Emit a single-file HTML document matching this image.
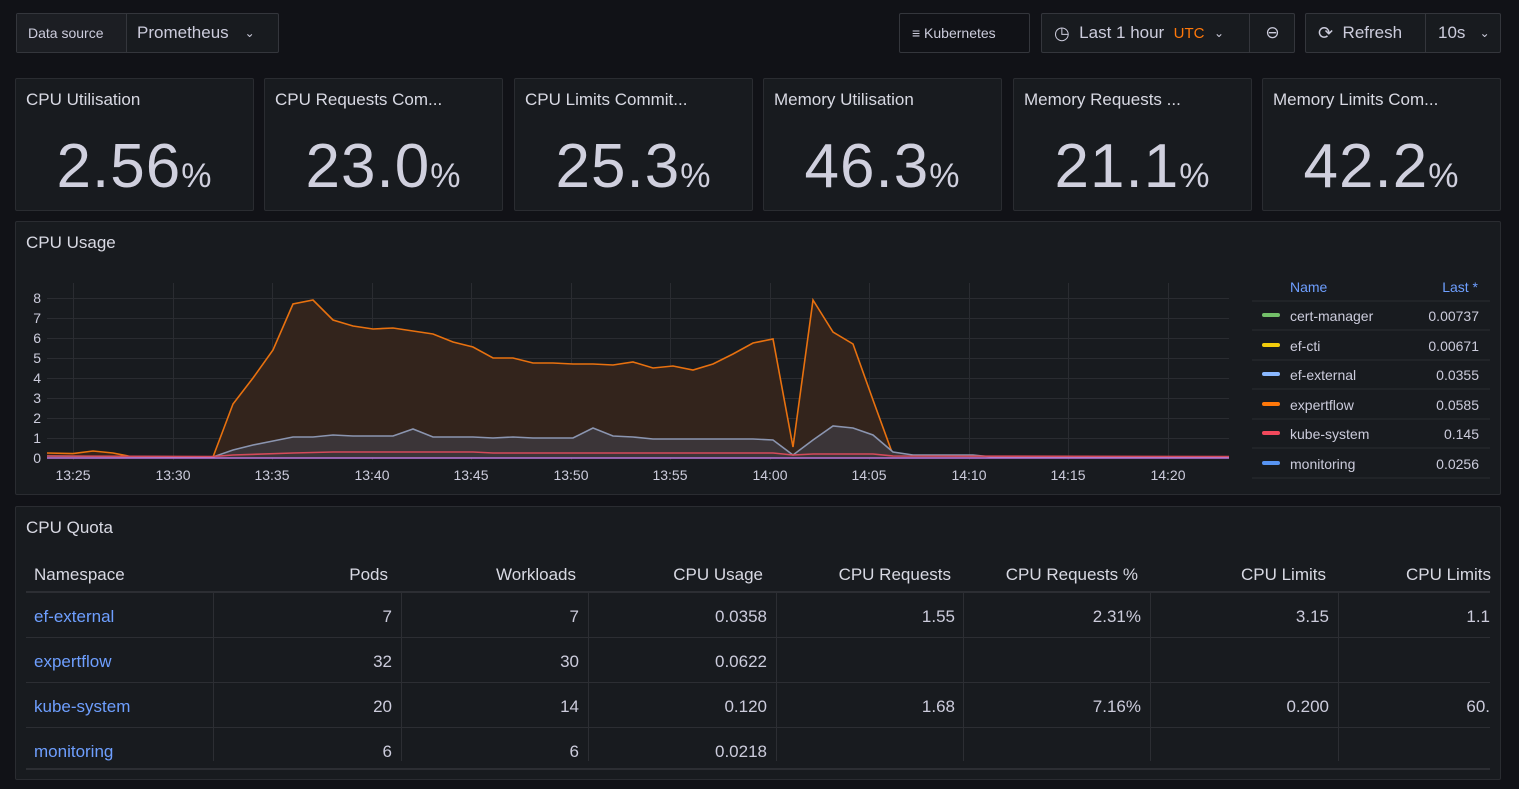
<!DOCTYPE html>
<html><head><meta charset="utf-8"><style>
*{box-sizing:border-box;margin:0;padding:0}
body{width:1519px;height:789px;background:#111217;font-family:"Liberation Sans",sans-serif;color:#ccccdc;position:relative;overflow:hidden}
.abs{position:absolute}
.btn{position:absolute;border:1px solid #34363c;border-radius:2px;background:#181b1f;display:flex;align-items:center;font-size:17px;color:#ccccdc}
.panel{position:absolute;background:#181b1f;border:1px solid #2a2c31;border-radius:2px}
.ptitle{position:absolute;left:10px;top:11px;font-size:17px;color:#d8d9e3}
.stat .big{position:absolute;left:0;right:0;top:52px;text-align:center;font-size:62px;color:#d0d0de;letter-spacing:1px}
.stat .big span{font-size:34px}
table{border-collapse:collapse}
</style></head><body>
<!-- top bar -->
<div class="btn" style="left:16px;top:13px;width:263px;height:40px;padding:0">
 <div style="width:110px;height:100%;border-right:1px solid #34363c;display:flex;align-items:center;padding-left:11px;font-size:14px;background:#1c1e23">Data source</div>
 <div style="padding-left:10px;font-size:17px">Prometheus</div><div style="margin-left:16px;font-size:12px">⌄</div>
</div>
<div class="btn" style="left:899px;top:13px;width:131px;height:40px;background:#111217;padding-left:12px;font-size:14px">≡&nbsp;Kubernetes</div>
<div class="btn" style="left:1041px;top:13px;width:254px;height:40px;padding-left:12px">
 <span style="font-size:18px">◷</span>&nbsp;&nbsp;Last 1 hour&nbsp;&nbsp;<span style="color:#ff780a;font-size:15px">UTC</span>&nbsp;&nbsp;<span style="font-size:12px">⌄</span>
 <div style="position:absolute;left:207px;top:0;height:38px;border-left:1px solid #34363c;width:46px;display:flex;align-items:center;justify-content:center">⊖</div>
</div>
<div class="btn" style="left:1305px;top:13px;width:196px;height:40px;padding-left:12px">
 <span style="font-size:18px">⟳</span>&nbsp;&nbsp;Refresh
 <div style="position:absolute;left:119px;top:0;height:38px;border-left:1px solid #34363c;padding-left:12px;display:flex;align-items:center">10s&nbsp;&nbsp;&nbsp;<span style="font-size:12px">⌄</span></div>
</div>
<!-- stats -->
<div class="panel stat" style="left:15px;top:78px;width:239px;height:133px"><div class="ptitle">CPU Utilisation</div><div class="big">2.56<span>%</span></div></div>
<div class="panel stat" style="left:264px;top:78px;width:239px;height:133px"><div class="ptitle">CPU Requests Com...</div><div class="big">23.0<span>%</span></div></div>
<div class="panel stat" style="left:514px;top:78px;width:239px;height:133px"><div class="ptitle">CPU Limits Commit...</div><div class="big">25.3<span>%</span></div></div>
<div class="panel stat" style="left:763px;top:78px;width:239px;height:133px"><div class="ptitle">Memory Utilisation</div><div class="big">46.3<span>%</span></div></div>
<div class="panel stat" style="left:1013px;top:78px;width:239px;height:133px"><div class="ptitle">Memory Requests ...</div><div class="big">21.1<span>%</span></div></div>
<div class="panel stat" style="left:1262px;top:78px;width:239px;height:133px"><div class="ptitle">Memory Limits Com...</div><div class="big">42.2<span>%</span></div></div>
<!-- CPU usage -->
<div class="panel" style="left:15px;top:221px;width:1486px;height:274px"><div class="ptitle">CPU Usage</div></div>
<svg class="abs" style="left:0;top:0" width="1519" height="789">
 <g stroke="#2a2c31" stroke-width="1">
  <line x1="47" x2="1229" y1="298.5" y2="298.5"/><line x1="47" x2="1229" y1="318.5" y2="318.5"/><line x1="47" x2="1229" y1="338.5" y2="338.5"/><line x1="47" x2="1229" y1="358.5" y2="358.5"/><line x1="47" x2="1229" y1="378.5" y2="378.5"/><line x1="47" x2="1229" y1="398.5" y2="398.5"/><line x1="47" x2="1229" y1="418.5" y2="418.5"/><line x1="47" x2="1229" y1="438.5" y2="438.5"/>
  <g transform="translate(0.5,0)"><line x1="73" x2="73" y1="283" y2="460"/><line x1="173" x2="173" y1="283" y2="460"/><line x1="272" x2="272" y1="283" y2="460"/><line x1="372" x2="372" y1="283" y2="460"/><line x1="471" x2="471" y1="283" y2="460"/><line x1="571" x2="571" y1="283" y2="460"/><line x1="670" x2="670" y1="283" y2="460"/><line x1="770" x2="770" y1="283" y2="460"/><line x1="869" x2="869" y1="283" y2="460"/><line x1="969" x2="969" y1="283" y2="460"/><line x1="1068" x2="1068" y1="283" y2="460"/><line x1="1168" x2="1168" y1="283" y2="460"/></g>
 </g>
 <g font-size="14" fill="#ccccdc" text-anchor="end">
  <text x="41" y="303">8</text><text x="41" y="323">7</text><text x="41" y="343">6</text><text x="41" y="363">5</text><text x="41" y="383">4</text><text x="41" y="403">3</text><text x="41" y="423">2</text><text x="41" y="443">1</text><text x="41" y="463">0</text>
 </g>
 <g font-size="14" fill="#ccccdc" text-anchor="middle">
  <text x="73" y="480">13:25</text><text x="173" y="480">13:30</text><text x="272" y="480">13:35</text><text x="372" y="480">13:40</text><text x="471" y="480">13:45</text><text x="571" y="480">13:50</text><text x="670" y="480">13:55</text><text x="770" y="480">14:00</text><text x="869" y="480">14:05</text><text x="969" y="480">14:10</text><text x="1068" y="480">14:15</text><text x="1168" y="480">14:20</text>
 </g>
 <polygon fill="#33241c" points="47,458 47,453 73,453.6 93,451 113,453 133,457 213,457 233,404 253,378 273,350 293,304 313,300 333,320 353,326 373,329 393,328 413,331 433,334 453,342 473,347 493,358 513,358 533,363 553,363 573,364 593,364 613,365 633,362 653,368 673,366 693,370 713,364 733,354 753,343 773,339 793,447 813,300 833,332 853,344 873,400 893,455 913,457 1229,457 1229,458"/>
 <polyline fill="none" stroke="#e8710f" stroke-width="1.6" points="47,453 73,453.6 93,451 113,453 133,457 213,457 233,404 253,378 273,350 293,304 313,300 333,320 353,326 373,329 393,328 413,331 433,334 453,342 473,347 493,358 513,358 533,363 553,363 573,364 593,364 613,365 633,362 653,368 673,366 693,370 713,364 733,354 753,343 773,339 793,447 813,300 833,332 853,344 873,400 893,455 913,457 1229,457"/>
 <polygon fill="#3b3538" points="47,458 47,456 213,457 233,450 253,445 273,441 293,437 313,437 333,435 353,436 373,436 393,436 413,429 433,437 453,437 473,437 493,438 513,437 533,438 553,438 573,438 593,428 613,436 633,437 653,439 673,439 753,439 773,440 793,455 813,440 833,426 853,428 873,435 893,452 913,455 973,455 993,457 1229,457 1229,458"/>
 <polyline fill="none" stroke="#8b95b0" stroke-width="1.6" points="47,456 213,457 233,450 253,445 273,441 293,437 313,437 333,435 353,436 373,436 393,436 413,429 433,437 453,437 473,437 493,438 513,437 533,438 553,438 573,438 593,428 613,436 633,437 653,439 673,439 753,439 773,440 793,455 813,440 833,426 853,428 873,435 893,452 913,455 973,455 993,457 1229,457"/>
 <polyline fill="none" stroke="#d44a5a" stroke-width="1.6" points="47,456 213,456.5 233,455 293,453 333,452 473,452 493,453 773,453 793,455 813,454 873,454 893,456 1229,456.5"/>
 <line x1="47" x2="1229" y1="458" y2="458" stroke="#b877d9" stroke-width="1.5"/>
 <!-- legend -->
 <g font-size="14" fill="#ccccdc">
  <text x="1290" y="292" fill="#6e9fff">Name</text><text x="1478" y="292" fill="#6e9fff" text-anchor="end">Last *</text>
  <g stroke="#2a2c31"><line x1="1252" x2="1490" y1="301" y2="301"/><line x1="1252" x2="1490" y1="330" y2="330"/><line x1="1252" x2="1490" y1="360" y2="360"/><line x1="1252" x2="1490" y1="389" y2="389"/><line x1="1252" x2="1490" y1="419" y2="419"/><line x1="1252" x2="1490" y1="448" y2="448"/><line x1="1252" x2="1490" y1="478" y2="478"/></g>
  <g stroke-width="4" stroke-linecap="round"><line x1="1264" x2="1278" y1="315" y2="315" stroke="#73bf69"/><line x1="1264" x2="1278" y1="345" y2="345" stroke="#f2cc0c"/><line x1="1264" x2="1278" y1="374" y2="374" stroke="#8ab8ff"/><line x1="1264" x2="1278" y1="404" y2="404" stroke="#ff780a"/><line x1="1264" x2="1278" y1="433" y2="433" stroke="#f2495c"/><line x1="1264" x2="1278" y1="463" y2="463" stroke="#5794f2"/></g>
  <text x="1290" y="321">cert-manager</text><text x="1290" y="351">ef-cti</text><text x="1290" y="380">ef-external</text><text x="1290" y="410">expertflow</text><text x="1290" y="439">kube-system</text><text x="1290" y="469">monitoring</text>
  <g text-anchor="end"><text x="1479" y="321">0.00737</text><text x="1479" y="351">0.00671</text><text x="1479" y="380">0.0355</text><text x="1479" y="410">0.0585</text><text x="1479" y="439">0.145</text><text x="1479" y="469">0.0256</text></g>
 </g>
</svg>
<!-- CPU quota -->
<div class="panel" style="left:15px;top:506px;width:1486px;height:274px"><div class="ptitle">CPU Quota</div></div>
<svg class="abs" style="left:0;top:0" width="1519" height="789">
 <g stroke="#2c2e33"><line x1="26" x2="1490" y1="592" y2="592" stroke-width="2"/><line x1="26" x2="1490" y1="637.5" y2="637.5"/><line x1="26" x2="1490" y1="682.5" y2="682.5"/><line x1="26" x2="1490" y1="727.5" y2="727.5"/><line x1="26" x2="1490" y1="769" y2="769" stroke-width="2"/>
 <g transform="translate(0.5,0)"><line x1="213" x2="213" y1="593" y2="761"/><line x1="401" x2="401" y1="593" y2="761"/><line x1="588" x2="588" y1="593" y2="761"/><line x1="776" x2="776" y1="593" y2="761"/><line x1="963" x2="963" y1="593" y2="761"/><line x1="1150" x2="1150" y1="593" y2="761"/><line x1="1338" x2="1338" y1="593" y2="761"/></g></g>
 <g font-size="17" fill="#d8d9e3">
  <text x="34" y="580">Namespace</text>
  <g text-anchor="end"><text x="388" y="580">Pods</text><text x="576" y="580">Workloads</text><text x="763" y="580">CPU Usage</text><text x="951" y="580">CPU Requests</text><text x="1138" y="580">CPU Requests %</text><text x="1326" y="580">CPU Limits</text><text x="1491" y="580">CPU Limits</text></g>
 </g>
 <g font-size="17" fill="#6e9fff"><text x="34" y="622">ef-external</text><text x="34" y="667">expertflow</text><text x="34" y="712">kube-system</text><text x="34" y="757">monitoring</text></g>
 <g font-size="17" fill="#ccccdc" text-anchor="end">
  <text x="392" y="622">7</text><text x="579" y="622">7</text><text x="767" y="622">0.0358</text><text x="955" y="622">1.55</text><text x="1141" y="622">2.31%</text><text x="1329" y="622">3.15</text><text x="1490" y="622">1.1</text>
  <text x="392" y="667">32</text><text x="579" y="667">30</text><text x="767" y="667">0.0622</text>
  <text x="392" y="712">20</text><text x="579" y="712">14</text><text x="767" y="712">0.120</text><text x="955" y="712">1.68</text><text x="1141" y="712">7.16%</text><text x="1329" y="712">0.200</text><text x="1490" y="712">60.</text>
  <text x="392" y="757">6</text><text x="579" y="757">6</text><text x="767" y="757">0.0218</text>
 </g>
</svg>
</body></html>
